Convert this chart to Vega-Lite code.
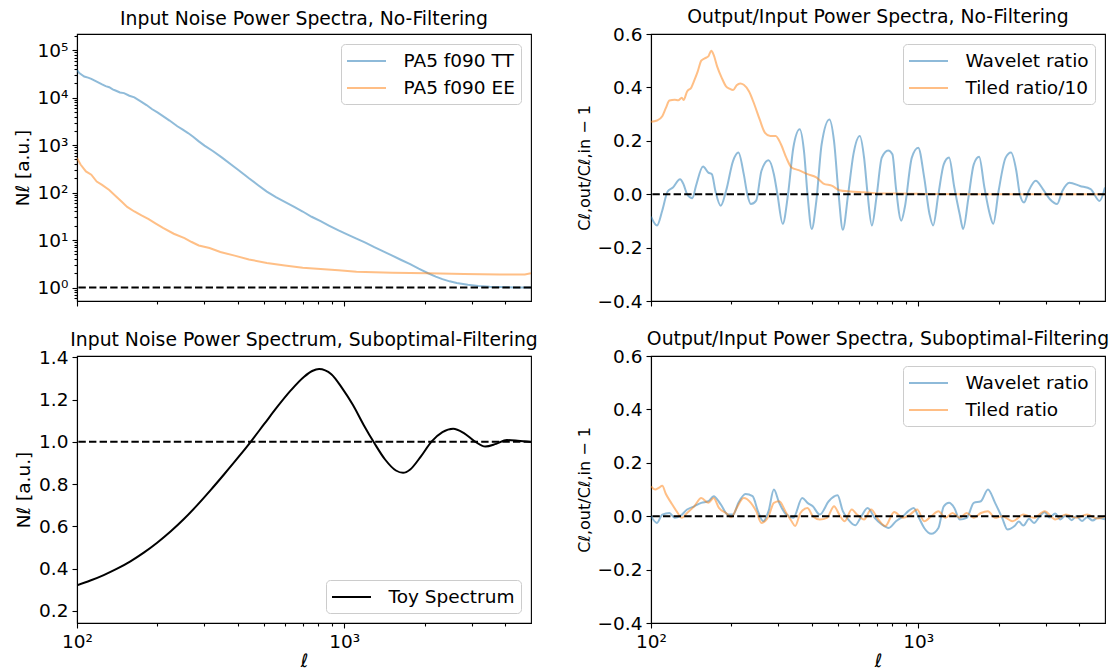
{
  "$schema": "https://vega.github.io/schema/vega-lite/v6.json",
  "background": "white",
  "padding": {"left": 12, "top": 7, "right": 2, "bottom": 0},
  "columns": 2,
  "bounds": "flush",
  "spacing": {"row": 55, "column": 120},
  "config": {
    "font": "DejaVu Sans",
    "view": {"stroke": "black", "strokeWidth": 1.1},
    "axis": {
      "grid": false, "labelFont": "DejaVu Sans", "titleFont": "DejaVu Sans",
      "labelFontSize": 18.5, "titleFontSize": 18.5, "titleFontWeight": "normal",
      "labelColor": "black", "titleColor": "black", "domainColor": "black", "tickColor": "black",
      "domainWidth": 1.1, "tickWidth": 1.1, "labelPadding": 4, "titlePadding": 5,
      "labelFlush": false, "labelOverlap": false
    },
    "title": {"font": "DejaVu Sans", "fontSize": 18.8, "fontWeight": "normal", "color": "black", "anchor": "middle", "frame": "group", "offset": -2, "baseline": "alphabetic"},
    "legend": {
      "title": null, "labelFont": "DejaVu Sans", "labelFontSize": 18.5, "labelColor": "black",
      "symbolType": "M-1.95,0H1.95", "symbolStrokeWidth": 2, "symbolSize": 400, "symbolOffset": 8.5,
      "fillColor": "rgba(255,255,255,0.8)", "strokeColor": "#cccccc", "cornerRadius": 4,
      "padding": 6, "rowPadding": 6, "labelOffset": 26, "offset": 10
    }
  },
  "datasets": {
    "tl": [
      {"ell": 100, "value": 38000, "series": "PA5 f090 TT"},
      {"ell": 102, "value": 33000, "series": "PA5 f090 TT"},
      {"ell": 106.4, "value": 28000, "series": "PA5 f090 TT"},
      {"ell": 110, "value": 26500, "series": "PA5 f090 TT"},
      {"ell": 113.1, "value": 25000, "series": "PA5 f090 TT"},
      {"ell": 118, "value": 22000, "series": "PA5 f090 TT"},
      {"ell": 124.1, "value": 19000, "series": "PA5 f090 TT"},
      {"ell": 128, "value": 17500, "series": "PA5 f090 TT"},
      {"ell": 132, "value": 16600, "series": "PA5 f090 TT"},
      {"ell": 136, "value": 15000, "series": "PA5 f090 TT"},
      {"ell": 140, "value": 14000, "series": "PA5 f090 TT"},
      {"ell": 144.8, "value": 12900, "series": "PA5 f090 TT"},
      {"ell": 150, "value": 12500, "series": "PA5 f090 TT"},
      {"ell": 157, "value": 11000, "series": "PA5 f090 TT"},
      {"ell": 163.9, "value": 10200, "series": "PA5 f090 TT"},
      {"ell": 174.3, "value": 8200, "series": "PA5 f090 TT"},
      {"ell": 182, "value": 7000, "series": "PA5 f090 TT"},
      {"ell": 191.2, "value": 5700, "series": "PA5 f090 TT"},
      {"ell": 200, "value": 4900, "series": "PA5 f090 TT"},
      {"ell": 209.8, "value": 4100, "series": "PA5 f090 TT"},
      {"ell": 222, "value": 3300, "series": "PA5 f090 TT"},
      {"ell": 237.4, "value": 2500, "series": "PA5 f090 TT"},
      {"ell": 248, "value": 2150, "series": "PA5 f090 TT"},
      {"ell": 260.4, "value": 1800, "series": "PA5 f090 TT"},
      {"ell": 272, "value": 1500, "series": "PA5 f090 TT"},
      {"ell": 285.6, "value": 1200, "series": "PA5 f090 TT"},
      {"ell": 300, "value": 980, "series": "PA5 f090 TT"},
      {"ell": 323.3, "value": 745, "series": "PA5 f090 TT"},
      {"ell": 350, "value": 540, "series": "PA5 f090 TT"},
      {"ell": 377.2, "value": 390, "series": "PA5 f090 TT"},
      {"ell": 405, "value": 290, "series": "PA5 f090 TT"},
      {"ell": 440, "value": 200, "series": "PA5 f090 TT"},
      {"ell": 475, "value": 145, "series": "PA5 f090 TT"},
      {"ell": 513.4, "value": 105, "series": "PA5 f090 TT"},
      {"ell": 555, "value": 80, "series": "PA5 f090 TT"},
      {"ell": 599.2, "value": 64, "series": "PA5 f090 TT"},
      {"ell": 650, "value": 50, "series": "PA5 f090 TT"},
      {"ell": 699.2, "value": 40, "series": "PA5 f090 TT"},
      {"ell": 755, "value": 31, "series": "PA5 f090 TT"},
      {"ell": 815.8, "value": 25, "series": "PA5 f090 TT"},
      {"ell": 880, "value": 20, "series": "PA5 f090 TT"},
      {"ell": 952.1, "value": 16, "series": "PA5 f090 TT"},
      {"ell": 1030, "value": 13, "series": "PA5 f090 TT"},
      {"ell": 1111, "value": 10.7, "series": "PA5 f090 TT"},
      {"ell": 1200, "value": 8.8, "series": "PA5 f090 TT"},
      {"ell": 1296, "value": 7.1, "series": "PA5 f090 TT"},
      {"ell": 1400, "value": 5.8, "series": "PA5 f090 TT"},
      {"ell": 1513, "value": 4.7, "series": "PA5 f090 TT"},
      {"ell": 1635, "value": 3.8, "series": "PA5 f090 TT"},
      {"ell": 1765, "value": 3.1, "series": "PA5 f090 TT"},
      {"ell": 1900, "value": 2.5, "series": "PA5 f090 TT"},
      {"ell": 2060, "value": 2.0, "series": "PA5 f090 TT"},
      {"ell": 2200, "value": 1.7, "series": "PA5 f090 TT"},
      {"ell": 2330, "value": 1.5, "series": "PA5 f090 TT"},
      {"ell": 2480, "value": 1.35, "series": "PA5 f090 TT"},
      {"ell": 2637, "value": 1.24, "series": "PA5 f090 TT"},
      {"ell": 2900, "value": 1.14, "series": "PA5 f090 TT"},
      {"ell": 3174, "value": 1.08, "series": "PA5 f090 TT"},
      {"ell": 3500, "value": 1.04, "series": "PA5 f090 TT"},
      {"ell": 3820, "value": 1.02, "series": "PA5 f090 TT"},
      {"ell": 4400, "value": 1.0, "series": "PA5 f090 TT"},
      {"ell": 5000, "value": 1.0, "series": "PA5 f090 TT"},
      {"ell": 100, "value": 537, "series": "PA5 f090 EE"},
      {"ell": 103.1, "value": 390, "series": "PA5 f090 EE"},
      {"ell": 108, "value": 280, "series": "PA5 f090 EE"},
      {"ell": 113.1, "value": 238, "series": "PA5 f090 EE"},
      {"ell": 118.5, "value": 171, "series": "PA5 f090 EE"},
      {"ell": 124.1, "value": 146, "series": "PA5 f090 EE"},
      {"ell": 132, "value": 114, "series": "PA5 f090 EE"},
      {"ell": 140.4, "value": 82, "series": "PA5 f090 EE"},
      {"ell": 147.1, "value": 64, "series": "PA5 f090 EE"},
      {"ell": 154.1, "value": 50, "series": "PA5 f090 EE"},
      {"ell": 163.9, "value": 40, "series": "PA5 f090 EE"},
      {"ell": 174.3, "value": 33, "series": "PA5 f090 EE"},
      {"ell": 185.4, "value": 27.5, "series": "PA5 f090 EE"},
      {"ell": 197.2, "value": 22.3, "series": "PA5 f090 EE"},
      {"ell": 209.8, "value": 18, "series": "PA5 f090 EE"},
      {"ell": 230.2, "value": 13.6, "series": "PA5 f090 EE"},
      {"ell": 252.5, "value": 11, "series": "PA5 f090 EE"},
      {"ell": 268.6, "value": 9.1, "series": "PA5 f090 EE"},
      {"ell": 285.6, "value": 7.7, "series": "PA5 f090 EE"},
      {"ell": 313.3, "value": 6.8, "series": "PA5 f090 EE"},
      {"ell": 343.9, "value": 5.6, "series": "PA5 f090 EE"},
      {"ell": 389, "value": 4.7, "series": "PA5 f090 EE"},
      {"ell": 440, "value": 3.9, "series": "PA5 f090 EE"},
      {"ell": 513.4, "value": 3.3, "series": "PA5 f090 EE"},
      {"ell": 599.3, "value": 2.9, "series": "PA5 f090 EE"},
      {"ell": 699.2, "value": 2.6, "series": "PA5 f090 EE"},
      {"ell": 815.8, "value": 2.46, "series": "PA5 f090 EE"},
      {"ell": 951.9, "value": 2.3, "series": "PA5 f090 EE"},
      {"ell": 1111, "value": 2.15, "series": "PA5 f090 EE"},
      {"ell": 1513, "value": 2.05, "series": "PA5 f090 EE"},
      {"ell": 2060, "value": 2.0, "series": "PA5 f090 EE"},
      {"ell": 2805, "value": 1.92, "series": "PA5 f090 EE"},
      {"ell": 3820, "value": 1.89, "series": "PA5 f090 EE"},
      {"ell": 4741, "value": 1.89, "series": "PA5 f090 EE"},
      {"ell": 5000, "value": 2.0, "series": "PA5 f090 EE"}
    ],
    "tr": [
      {"ell": 100, "value": -0.084, "series": "Wavelet ratio"},
      {"ell": 105.3, "value": -0.117, "series": "Wavelet ratio"},
      {"ell": 110.2, "value": -0.061, "series": "Wavelet ratio"},
      {"ell": 115.4, "value": 0.01, "series": "Wavelet ratio"},
      {"ell": 120.8, "value": 0.025, "series": "Wavelet ratio"},
      {"ell": 128.4, "value": 0.056, "series": "Wavelet ratio"},
      {"ell": 132.4, "value": 0.037, "series": "Wavelet ratio"},
      {"ell": 136.5, "value": 0.0, "series": "Wavelet ratio"},
      {"ell": 142.9, "value": -0.015, "series": "Wavelet ratio"},
      {"ell": 147.3, "value": 0.031, "series": "Wavelet ratio"},
      {"ell": 156.6, "value": 0.104, "series": "Wavelet ratio"},
      {"ell": 163.9, "value": 0.081, "series": "Wavelet ratio"},
      {"ell": 169.0, "value": 0.075, "series": "Wavelet ratio"},
      {"ell": 174.2, "value": 0.012, "series": "Wavelet ratio"},
      {"ell": 182.4, "value": -0.043, "series": "Wavelet ratio"},
      {"ell": 190.9, "value": 0.012, "series": "Wavelet ratio"},
      {"ell": 202.9, "value": 0.125, "series": "Wavelet ratio"},
      {"ell": 212.4, "value": 0.156, "series": "Wavelet ratio"},
      {"ell": 222.4, "value": 0.075, "series": "Wavelet ratio"},
      {"ell": 229.3, "value": 0.0, "series": "Wavelet ratio"},
      {"ell": 236.4, "value": -0.037, "series": "Wavelet ratio"},
      {"ell": 247.5, "value": -0.024, "series": "Wavelet ratio"},
      {"ell": 259.1, "value": 0.088, "series": "Wavelet ratio"},
      {"ell": 275.4, "value": 0.127, "series": "Wavelet ratio"},
      {"ell": 288.3, "value": 0.075, "series": "Wavelet ratio"},
      {"ell": 297.2, "value": 0.0, "series": "Wavelet ratio"},
      {"ell": 311.1, "value": -0.111, "series": "Wavelet ratio"},
      {"ell": 325.7, "value": 0.0, "series": "Wavelet ratio"},
      {"ell": 340.9, "value": 0.174, "series": "Wavelet ratio"},
      {"ell": 360.2, "value": 0.243, "series": "Wavelet ratio"},
      {"ell": 373.6, "value": 0.162, "series": "Wavelet ratio"},
      {"ell": 385.2, "value": 0.0, "series": "Wavelet ratio"},
      {"ell": 399.5, "value": -0.13, "series": "Wavelet ratio"},
      {"ell": 415.7, "value": -0.025, "series": "Wavelet ratio"},
      {"ell": 435.1, "value": 0.187, "series": "Wavelet ratio"},
      {"ell": 465.3, "value": 0.28, "series": "Wavelet ratio"},
      {"ell": 484.1, "value": 0.199, "series": "Wavelet ratio"},
      {"ell": 503.5, "value": 0.0, "series": "Wavelet ratio"},
      {"ell": 522.3, "value": -0.133, "series": "Wavelet ratio"},
      {"ell": 546.7, "value": 0.0, "series": "Wavelet ratio"},
      {"ell": 572.3, "value": 0.15, "series": "Wavelet ratio"},
      {"ell": 604.6, "value": 0.218, "series": "Wavelet ratio"},
      {"ell": 627.1, "value": 0.137, "series": "Wavelet ratio"},
      {"ell": 646.6, "value": 0.0, "series": "Wavelet ratio"},
      {"ell": 670.6, "value": -0.117, "series": "Wavelet ratio"},
      {"ell": 697.8, "value": -0.012, "series": "Wavelet ratio"},
      {"ell": 730.5, "value": 0.137, "series": "Wavelet ratio"},
      {"ell": 771.7, "value": 0.164, "series": "Wavelet ratio"},
      {"ell": 800.4, "value": 0.15, "series": "Wavelet ratio"},
      {"ell": 825.2, "value": 0.025, "series": "Wavelet ratio"},
      {"ell": 863.9, "value": -0.099, "series": "Wavelet ratio"},
      {"ell": 890.6, "value": -0.05, "series": "Wavelet ratio"},
      {"ell": 946.4, "value": 0.137, "series": "Wavelet ratio"},
      {"ell": 1000, "value": 0.174, "series": "Wavelet ratio"},
      {"ell": 1053, "value": 0.062, "series": "Wavelet ratio"},
      {"ell": 1102, "value": -0.074, "series": "Wavelet ratio"},
      {"ell": 1137, "value": -0.117, "series": "Wavelet ratio"},
      {"ell": 1190, "value": 0.0, "series": "Wavelet ratio"},
      {"ell": 1246, "value": 0.112, "series": "Wavelet ratio"},
      {"ell": 1304, "value": 0.137, "series": "Wavelet ratio"},
      {"ell": 1365, "value": 0.025, "series": "Wavelet ratio"},
      {"ell": 1429, "value": -0.074, "series": "Wavelet ratio"},
      {"ell": 1473, "value": -0.13, "series": "Wavelet ratio"},
      {"ell": 1542, "value": -0.012, "series": "Wavelet ratio"},
      {"ell": 1614, "value": 0.112, "series": "Wavelet ratio"},
      {"ell": 1690, "value": 0.14, "series": "Wavelet ratio"},
      {"ell": 1769, "value": 0.025, "series": "Wavelet ratio"},
      {"ell": 1852, "value": -0.074, "series": "Wavelet ratio"},
      {"ell": 1909, "value": -0.111, "series": "Wavelet ratio"},
      {"ell": 1999, "value": 0.012, "series": "Wavelet ratio"},
      {"ell": 2124, "value": 0.137, "series": "Wavelet ratio"},
      {"ell": 2224, "value": 0.156, "series": "Wavelet ratio"},
      {"ell": 2328, "value": 0.088, "series": "Wavelet ratio"},
      {"ell": 2400, "value": 0.0, "series": "Wavelet ratio"},
      {"ell": 2489, "value": -0.031, "series": "Wavelet ratio"},
      {"ell": 2590, "value": 0.012, "series": "Wavelet ratio"},
      {"ell": 2754, "value": 0.05, "series": "Wavelet ratio"},
      {"ell": 2927, "value": 0.019, "series": "Wavelet ratio"},
      {"ell": 3111, "value": -0.019, "series": "Wavelet ratio"},
      {"ell": 3307, "value": -0.037, "series": "Wavelet ratio"},
      {"ell": 3462, "value": 0.012, "series": "Wavelet ratio"},
      {"ell": 3680, "value": 0.043, "series": "Wavelet ratio"},
      {"ell": 4030, "value": 0.031, "series": "Wavelet ratio"},
      {"ell": 4418, "value": 0.019, "series": "Wavelet ratio"},
      {"ell": 4768, "value": -0.025, "series": "Wavelet ratio"},
      {"ell": 5000, "value": 0.025, "series": "Wavelet ratio"},
      {"ell": 100, "value": 0.271, "series": "Tiled ratio/10"},
      {"ell": 105.3, "value": 0.276, "series": "Tiled ratio/10"},
      {"ell": 110.2, "value": 0.292, "series": "Tiled ratio/10"},
      {"ell": 113.7, "value": 0.323, "series": "Tiled ratio/10"},
      {"ell": 117.2, "value": 0.351, "series": "Tiled ratio/10"},
      {"ell": 122.7, "value": 0.354, "series": "Tiled ratio/10"},
      {"ell": 126.5, "value": 0.352, "series": "Tiled ratio/10"},
      {"ell": 130.4, "value": 0.361, "series": "Tiled ratio/10"},
      {"ell": 132.4, "value": 0.353, "series": "Tiled ratio/10"},
      {"ell": 136.5, "value": 0.385, "series": "Tiled ratio/10"},
      {"ell": 141.6, "value": 0.4, "series": "Tiled ratio/10"},
      {"ell": 145.1, "value": 0.425, "series": "Tiled ratio/10"},
      {"ell": 149.6, "value": 0.46, "series": "Tiled ratio/10"},
      {"ell": 154.2, "value": 0.5, "series": "Tiled ratio/10"},
      {"ell": 159.0, "value": 0.509, "series": "Tiled ratio/10"},
      {"ell": 163.9, "value": 0.516, "series": "Tiled ratio/10"},
      {"ell": 168.0, "value": 0.537, "series": "Tiled ratio/10"},
      {"ell": 171.6, "value": 0.522, "series": "Tiled ratio/10"},
      {"ell": 176.9, "value": 0.478, "series": "Tiled ratio/10"},
      {"ell": 184.1, "value": 0.435, "series": "Tiled ratio/10"},
      {"ell": 190.9, "value": 0.404, "series": "Tiled ratio/10"},
      {"ell": 196.8, "value": 0.395, "series": "Tiled ratio/10"},
      {"ell": 202.9, "value": 0.39, "series": "Tiled ratio/10"},
      {"ell": 209.2, "value": 0.408, "series": "Tiled ratio/10"},
      {"ell": 215.7, "value": 0.415, "series": "Tiled ratio/10"},
      {"ell": 222.4, "value": 0.41, "series": "Tiled ratio/10"},
      {"ell": 232.8, "value": 0.385, "series": "Tiled ratio/10"},
      {"ell": 243.7, "value": 0.336, "series": "Tiled ratio/10"},
      {"ell": 255.1, "value": 0.28, "series": "Tiled ratio/10"},
      {"ell": 267.1, "value": 0.23, "series": "Tiled ratio/10"},
      {"ell": 279.6, "value": 0.218, "series": "Tiled ratio/10"},
      {"ell": 292.7, "value": 0.218, "series": "Tiled ratio/10"},
      {"ell": 306.4, "value": 0.187, "series": "Tiled ratio/10"},
      {"ell": 320.8, "value": 0.137, "series": "Tiled ratio/10"},
      {"ell": 335.8, "value": 0.1, "series": "Tiled ratio/10"},
      {"ell": 356.9, "value": 0.09, "series": "Tiled ratio/10"},
      {"ell": 385.2, "value": 0.075, "series": "Tiled ratio/10"},
      {"ell": 415.7, "value": 0.063, "series": "Tiled ratio/10"},
      {"ell": 441.8, "value": 0.04, "series": "Tiled ratio/10"},
      {"ell": 476.8, "value": 0.031, "series": "Tiled ratio/10"},
      {"ell": 506.6, "value": 0.015, "series": "Tiled ratio/10"},
      {"ell": 555.1, "value": 0.01, "series": "Tiled ratio/10"},
      {"ell": 627.1, "value": 0.007, "series": "Tiled ratio/10"},
      {"ell": 708.5, "value": 0.003, "series": "Tiled ratio/10"},
      {"ell": 825.2, "value": 0.003, "series": "Tiled ratio/10"},
      {"ell": 1119, "value": 0.001, "series": "Tiled ratio/10"},
      {"ell": 1769, "value": 0.0, "series": "Tiled ratio/10"},
      {"ell": 5000, "value": 0.0, "series": "Tiled ratio/10"}
    ],
    "bl": [
      {"ell": 100, "value": 0.321, "series": "Toy Spectrum"},
      {"ell": 112.2, "value": 0.343, "series": "Toy Spectrum"},
      {"ell": 125.9, "value": 0.369, "series": "Toy Spectrum"},
      {"ell": 141.3, "value": 0.399, "series": "Toy Spectrum"},
      {"ell": 158.5, "value": 0.434, "series": "Toy Spectrum"},
      {"ell": 177.8, "value": 0.475, "series": "Toy Spectrum"},
      {"ell": 199.5, "value": 0.522, "series": "Toy Spectrum"},
      {"ell": 223.9, "value": 0.575, "series": "Toy Spectrum"},
      {"ell": 251.2, "value": 0.634, "series": "Toy Spectrum"},
      {"ell": 281.8, "value": 0.7, "series": "Toy Spectrum"},
      {"ell": 316.2, "value": 0.771, "series": "Toy Spectrum"},
      {"ell": 354.8, "value": 0.845, "series": "Toy Spectrum"},
      {"ell": 398.1, "value": 0.921, "series": "Toy Spectrum"},
      {"ell": 446.7, "value": 1.0, "series": "Toy Spectrum"},
      {"ell": 501.2, "value": 1.083, "series": "Toy Spectrum"},
      {"ell": 562.3, "value": 1.166, "series": "Toy Spectrum"},
      {"ell": 631.0, "value": 1.243, "series": "Toy Spectrum"},
      {"ell": 707.9, "value": 1.308, "series": "Toy Spectrum"},
      {"ell": 758.6, "value": 1.335, "series": "Toy Spectrum"},
      {"ell": 805, "value": 1.345, "series": "Toy Spectrum"},
      {"ell": 895, "value": 1.32, "series": "Toy Spectrum"},
      {"ell": 982, "value": 1.254, "series": "Toy Spectrum"},
      {"ell": 1077, "value": 1.175, "series": "Toy Spectrum"},
      {"ell": 1181, "value": 1.081, "series": "Toy Spectrum"},
      {"ell": 1296, "value": 0.994, "series": "Toy Spectrum"},
      {"ell": 1422, "value": 0.916, "series": "Toy Spectrum"},
      {"ell": 1561, "value": 0.864, "series": "Toy Spectrum"},
      {"ell": 1660, "value": 0.853, "series": "Toy Spectrum"},
      {"ell": 1766, "value": 0.869, "series": "Toy Spectrum"},
      {"ell": 1937, "value": 0.931, "series": "Toy Spectrum"},
      {"ell": 2125, "value": 1.002, "series": "Toy Spectrum"},
      {"ell": 2331, "value": 1.046, "series": "Toy Spectrum"},
      {"ell": 2557, "value": 1.062, "series": "Toy Spectrum"},
      {"ell": 2805, "value": 1.041, "series": "Toy Spectrum"},
      {"ell": 3077, "value": 1.002, "series": "Toy Spectrum"},
      {"ell": 3375, "value": 0.977, "series": "Toy Spectrum"},
      {"ell": 3703, "value": 0.99, "series": "Toy Spectrum"},
      {"ell": 4062, "value": 1.008, "series": "Toy Spectrum"},
      {"ell": 4458, "value": 1.005, "series": "Toy Spectrum"},
      {"ell": 5000, "value": 0.999, "series": "Toy Spectrum"}
    ],
    "br": [
      {"ell": 100, "value": 0.0, "series": "Wavelet ratio"},
      {"ell": 105.3, "value": -0.025, "series": "Wavelet ratio"},
      {"ell": 110.2, "value": 0.006, "series": "Wavelet ratio"},
      {"ell": 117.2, "value": 0.012, "series": "Wavelet ratio"},
      {"ell": 122.7, "value": -0.006, "series": "Wavelet ratio"},
      {"ell": 128.4, "value": 0.0, "series": "Wavelet ratio"},
      {"ell": 136.5, "value": 0.025, "series": "Wavelet ratio"},
      {"ell": 145.1, "value": 0.037, "series": "Wavelet ratio"},
      {"ell": 154.2, "value": 0.05, "series": "Wavelet ratio"},
      {"ell": 163.9, "value": 0.056, "series": "Wavelet ratio"},
      {"ell": 171.6, "value": 0.075, "series": "Wavelet ratio"},
      {"ell": 182.4, "value": 0.044, "series": "Wavelet ratio"},
      {"ell": 193.9, "value": 0.006, "series": "Wavelet ratio"},
      {"ell": 202.9, "value": 0.006, "series": "Wavelet ratio"},
      {"ell": 212.4, "value": 0.05, "series": "Wavelet ratio"},
      {"ell": 225.8, "value": 0.083, "series": "Wavelet ratio"},
      {"ell": 240.0, "value": 0.075, "series": "Wavelet ratio"},
      {"ell": 251.2, "value": 0.019, "series": "Wavelet ratio"},
      {"ell": 263.1, "value": -0.019, "series": "Wavelet ratio"},
      {"ell": 275.4, "value": 0.019, "series": "Wavelet ratio"},
      {"ell": 288.3, "value": 0.1, "series": "Wavelet ratio"},
      {"ell": 301.8, "value": 0.05, "series": "Wavelet ratio"},
      {"ell": 320.8, "value": 0.006, "series": "Wavelet ratio"},
      {"ell": 340.9, "value": -0.006, "series": "Wavelet ratio"},
      {"ell": 368.0, "value": 0.068, "series": "Wavelet ratio"},
      {"ell": 385.2, "value": 0.05, "series": "Wavelet ratio"},
      {"ell": 403.2, "value": 0.037, "series": "Wavelet ratio"},
      {"ell": 428.3, "value": 0.006, "series": "Wavelet ratio"},
      {"ell": 462.5, "value": 0.056, "series": "Wavelet ratio"},
      {"ell": 498.9, "value": 0.078, "series": "Wavelet ratio"},
      {"ell": 522.3, "value": 0.019, "series": "Wavelet ratio"},
      {"ell": 546.7, "value": -0.012, "series": "Wavelet ratio"},
      {"ell": 581.1, "value": -0.034, "series": "Wavelet ratio"},
      {"ell": 608.3, "value": -0.006, "series": "Wavelet ratio"},
      {"ell": 646.6, "value": 0.031, "series": "Wavelet ratio"},
      {"ell": 687.2, "value": -0.006, "series": "Wavelet ratio"},
      {"ell": 730.5, "value": -0.031, "series": "Wavelet ratio"},
      {"ell": 776.4, "value": -0.044, "series": "Wavelet ratio"},
      {"ell": 825.2, "value": -0.019, "series": "Wavelet ratio"},
      {"ell": 877.1, "value": 0.0, "series": "Wavelet ratio"},
      {"ell": 918.1, "value": 0.019, "series": "Wavelet ratio"},
      {"ell": 961.2, "value": 0.031, "series": "Wavelet ratio"},
      {"ell": 1006, "value": -0.006, "series": "Wavelet ratio"},
      {"ell": 1053, "value": -0.044, "series": "Wavelet ratio"},
      {"ell": 1119, "value": -0.066, "series": "Wavelet ratio"},
      {"ell": 1190, "value": -0.044, "series": "Wavelet ratio"},
      {"ell": 1246, "value": 0.037, "series": "Wavelet ratio"},
      {"ell": 1304, "value": 0.05, "series": "Wavelet ratio"},
      {"ell": 1365, "value": 0.031, "series": "Wavelet ratio"},
      {"ell": 1429, "value": -0.012, "series": "Wavelet ratio"},
      {"ell": 1519, "value": -0.006, "series": "Wavelet ratio"},
      {"ell": 1614, "value": 0.05, "series": "Wavelet ratio"},
      {"ell": 1716, "value": 0.056, "series": "Wavelet ratio"},
      {"ell": 1824, "value": 0.1, "series": "Wavelet ratio"},
      {"ell": 1939, "value": 0.05, "series": "Wavelet ratio"},
      {"ell": 2061, "value": -0.006, "series": "Wavelet ratio"},
      {"ell": 2157, "value": -0.05, "series": "Wavelet ratio"},
      {"ell": 2293, "value": -0.037, "series": "Wavelet ratio"},
      {"ell": 2380, "value": -0.02, "series": "Wavelet ratio"},
      {"ell": 2474, "value": -0.035, "series": "Wavelet ratio"},
      {"ell": 2600, "value": -0.01, "series": "Wavelet ratio"},
      {"ell": 2712, "value": -0.025, "series": "Wavelet ratio"},
      {"ell": 2850, "value": 0.0, "series": "Wavelet ratio"},
      {"ell": 2972, "value": 0.015, "series": "Wavelet ratio"},
      {"ell": 3100, "value": -0.005, "series": "Wavelet ratio"},
      {"ell": 3257, "value": 0.01, "series": "Wavelet ratio"},
      {"ell": 3400, "value": -0.012, "series": "Wavelet ratio"},
      {"ell": 3569, "value": 0.004, "series": "Wavelet ratio"},
      {"ell": 3750, "value": -0.015, "series": "Wavelet ratio"},
      {"ell": 3909, "value": 0.0, "series": "Wavelet ratio"},
      {"ell": 4100, "value": -0.018, "series": "Wavelet ratio"},
      {"ell": 4283, "value": -0.004, "series": "Wavelet ratio"},
      {"ell": 4500, "value": -0.016, "series": "Wavelet ratio"},
      {"ell": 4696, "value": -0.006, "series": "Wavelet ratio"},
      {"ell": 5000, "value": -0.012, "series": "Wavelet ratio"},
      {"ell": 100, "value": 0.112, "series": "Tiled ratio"},
      {"ell": 103.7, "value": 0.1, "series": "Tiled ratio"},
      {"ell": 106.9, "value": 0.106, "series": "Tiled ratio"},
      {"ell": 110.2, "value": 0.114, "series": "Tiled ratio"},
      {"ell": 113.7, "value": 0.083, "series": "Tiled ratio"},
      {"ell": 119.0, "value": 0.05, "series": "Tiled ratio"},
      {"ell": 124.6, "value": 0.019, "series": "Tiled ratio"},
      {"ell": 130.4, "value": -0.006, "series": "Tiled ratio"},
      {"ell": 136.5, "value": 0.012, "series": "Tiled ratio"},
      {"ell": 145.1, "value": 0.037, "series": "Tiled ratio"},
      {"ell": 154.2, "value": 0.068, "series": "Tiled ratio"},
      {"ell": 163.9, "value": 0.05, "series": "Tiled ratio"},
      {"ell": 171.6, "value": 0.068, "series": "Tiled ratio"},
      {"ell": 179.6, "value": 0.031, "series": "Tiled ratio"},
      {"ell": 190.9, "value": 0.012, "series": "Tiled ratio"},
      {"ell": 199.9, "value": -0.004, "series": "Tiled ratio"},
      {"ell": 209.2, "value": 0.031, "series": "Tiled ratio"},
      {"ell": 222.4, "value": 0.068, "series": "Tiled ratio"},
      {"ell": 236.4, "value": 0.05, "series": "Tiled ratio"},
      {"ell": 247.5, "value": 0.019, "series": "Tiled ratio"},
      {"ell": 259.1, "value": -0.025, "series": "Tiled ratio"},
      {"ell": 275.4, "value": 0.0, "series": "Tiled ratio"},
      {"ell": 288.3, "value": 0.05, "series": "Tiled ratio"},
      {"ell": 301.8, "value": 0.056, "series": "Tiled ratio"},
      {"ell": 320.8, "value": 0.012, "series": "Tiled ratio"},
      {"ell": 335.8, "value": -0.019, "series": "Tiled ratio"},
      {"ell": 346.2, "value": -0.037, "series": "Tiled ratio"},
      {"ell": 362.4, "value": 0.012, "series": "Tiled ratio"},
      {"ell": 385.2, "value": 0.031, "series": "Tiled ratio"},
      {"ell": 403.2, "value": 0.0, "series": "Tiled ratio"},
      {"ell": 428.3, "value": -0.012, "series": "Tiled ratio"},
      {"ell": 455.5, "value": -0.006, "series": "Tiled ratio"},
      {"ell": 484.1, "value": 0.037, "series": "Tiled ratio"},
      {"ell": 506.6, "value": 0.006, "series": "Tiled ratio"},
      {"ell": 530.3, "value": -0.019, "series": "Tiled ratio"},
      {"ell": 563.7, "value": 0.025, "series": "Tiled ratio"},
      {"ell": 590.0, "value": 0.006, "series": "Tiled ratio"},
      {"ell": 627.1, "value": -0.012, "series": "Tiled ratio"},
      {"ell": 666.6, "value": 0.025, "series": "Tiled ratio"},
      {"ell": 708.5, "value": -0.012, "series": "Tiled ratio"},
      {"ell": 753.1, "value": -0.037, "series": "Tiled ratio"},
      {"ell": 812.8, "value": 0.016, "series": "Tiled ratio"},
      {"ell": 877.1, "value": -0.006, "series": "Tiled ratio"},
      {"ell": 932.2, "value": 0.006, "series": "Tiled ratio"},
      {"ell": 990.9, "value": 0.025, "series": "Tiled ratio"},
      {"ell": 1053, "value": -0.019, "series": "Tiled ratio"},
      {"ell": 1119, "value": 0.0, "series": "Tiled ratio"},
      {"ell": 1190, "value": 0.019, "series": "Tiled ratio"},
      {"ell": 1265, "value": -0.006, "series": "Tiled ratio"},
      {"ell": 1344, "value": 0.012, "series": "Tiled ratio"},
      {"ell": 1429, "value": -0.006, "series": "Tiled ratio"},
      {"ell": 1519, "value": 0.012, "series": "Tiled ratio"},
      {"ell": 1614, "value": -0.006, "series": "Tiled ratio"},
      {"ell": 1716, "value": 0.012, "series": "Tiled ratio"},
      {"ell": 1824, "value": 0.019, "series": "Tiled ratio"},
      {"ell": 1939, "value": -0.006, "series": "Tiled ratio"},
      {"ell": 2061, "value": 0.0, "series": "Tiled ratio"},
      {"ell": 2258, "value": -0.019, "series": "Tiled ratio"},
      {"ell": 2474, "value": 0.006, "series": "Tiled ratio"},
      {"ell": 2712, "value": -0.006, "series": "Tiled ratio"},
      {"ell": 2972, "value": 0.019, "series": "Tiled ratio"},
      {"ell": 3257, "value": -0.012, "series": "Tiled ratio"},
      {"ell": 3569, "value": 0.006, "series": "Tiled ratio"},
      {"ell": 3909, "value": -0.006, "series": "Tiled ratio"},
      {"ell": 4283, "value": 0.006, "series": "Tiled ratio"},
      {"ell": 4696, "value": -0.009, "series": "Tiled ratio"},
      {"ell": 5000, "value": 0.0, "series": "Tiled ratio"}
    ],
    "ref1": [{"value": 1}],
    "ref0": [{"value": 0}]
  },
  "concat": [
    {
      "width": 454, "height": 267,
      "title": {"text": "Input Noise Power Spectra, No-Filtering"},
      "layer": [
        {
          "data": {"name": "tl"},
          "mark": {"type": "line", "strokeWidth": 2, "opacity": 0.5, "clip": true},
          "encoding": {
            "x": {"field": "ell", "type": "quantitative",
              "scale": {"type": "log", "domain": [100, 5000], "nice": false},
              "axis": {"values": [100, 200, 300, 400, 500, 600, 700, 800, 900, 1000, 2000, 3000, 4000], "labels": false, "title": null,
                "tickSize": {"condition": {"test": "datum.value == 100 || datum.value == 1000", "value": 5}, "value": 3}}},
            "y": {"field": "value", "type": "quantitative",
              "scale": {"type": "log", "domain": [0.52, 220000], "nice": false},
              "axis": {"title": "Nℓ [a.u.]",
                "values": [0.6, 0.7, 0.8, 0.9, 1, 2, 3, 4, 5, 6, 7, 8, 9, 10, 20, 30, 40, 50, 60, 70, 80, 90, 100, 200, 300, 400, 500, 600, 700, 800, 900, 1000, 2000, 3000, 4000, 5000, 6000, 7000, 8000, 9000, 10000, 20000, 30000, 40000, 50000, 60000, 70000, 80000, 90000, 100000, 200000],
                "labelExpr": "datum.value == 1 ? '10⁰' : datum.value == 10 ? '10¹' : datum.value == 100 ? '10²' : datum.value == 1000 ? '10³' : datum.value == 10000 ? '10⁴' : datum.value == 100000 ? '10⁵' : ''",
                "tickSize": {"condition": {"test": "datum.value == 1 || datum.value == 10 || datum.value == 100 || datum.value == 1000 || datum.value == 10000 || datum.value == 100000", "value": 5}, "value": 3}}},
            "color": {"field": "series", "type": "nominal",
              "scale": {"domain": ["PA5 f090 TT", "PA5 f090 EE"], "range": ["#1f77b4", "#ff7f0e"]},
              "legend": {"orient": "top-right", "symbolOpacity": 0.5, "symbolType": "M-1.95,0H1.95"}}
          }
        },
        {
          "data": {"name": "ref1"},
          "mark": {"type": "rule", "color": "black", "strokeWidth": 2, "strokeDash": [7.4, 3.2]},
          "encoding": {"y": {"field": "value", "type": "quantitative"}}
        }
      ]
    },
    {
      "width": 454, "height": 267,
      "title": {"text": "Output/Input Power Spectra, No-Filtering"},
      "layer": [
        {
          "data": {"name": "tr"},
          "mark": {"type": "line", "strokeWidth": 2, "opacity": 0.5, "clip": true, "interpolate": "monotone"},
          "encoding": {
            "x": {"field": "ell", "type": "quantitative",
              "scale": {"type": "log", "domain": [100, 5000], "nice": false},
              "axis": {"values": [100, 200, 300, 400, 500, 600, 700, 800, 900, 1000, 2000, 3000, 4000], "labels": false, "title": null,
                "tickSize": {"condition": {"test": "datum.value == 100 || datum.value == 1000", "value": 5}, "value": 3}}},
            "y": {"field": "value", "type": "quantitative",
              "scale": {"domain": [-0.4, 0.6], "nice": false, "zero": false},
              "axis": {"title": "Cℓ,out/Cℓ,in − 1", "titleFontSize": 16, "values": [-0.4, -0.2, 0, 0.2, 0.4, 0.6], "format": ".1f", "tickSize": 5}},
            "color": {"field": "series", "type": "nominal",
              "scale": {"domain": ["Wavelet ratio", "Tiled ratio/10"], "range": ["#1f77b4", "#ff7f0e"]},
              "legend": {"orient": "top-right", "symbolOpacity": 0.5, "symbolType": "M-1.95,0H1.95"}}
          }
        },
        {
          "data": {"name": "ref0"},
          "mark": {"type": "rule", "color": "black", "strokeWidth": 2, "strokeDash": [7.4, 3.2]},
          "encoding": {"y": {"field": "value", "type": "quantitative"}}
        }
      ]
    },
    {
      "width": 454, "height": 267,
      "title": {"text": "Input Noise Power Spectrum, Suboptimal-Filtering"},
      "layer": [
        {
          "data": {"name": "bl"},
          "mark": {"type": "line", "strokeWidth": 2, "clip": true, "interpolate": "monotone"},
          "encoding": {
            "x": {"field": "ell", "type": "quantitative",
              "scale": {"type": "log", "domain": [100, 5000], "nice": false},
              "axis": {"values": [100, 200, 300, 400, 500, 600, 700, 800, 900, 1000, 2000, 3000, 4000], "title": "ℓ", "titleFontStyle": "italic", "titlePadding": 1,
                "labelExpr": "datum.value == 100 ? '10²' : datum.value == 1000 ? '10³' : ''",
                "tickSize": {"condition": {"test": "datum.value == 100 || datum.value == 1000", "value": 5}, "value": 3}}},
            "y": {"field": "value", "type": "quantitative",
              "scale": {"domain": [0.142, 1.406], "nice": false, "zero": false},
              "axis": {"title": "Nℓ [a.u.]", "values": [0.2, 0.4, 0.6, 0.8, 1.0, 1.2, 1.4], "format": ".1f", "tickSize": 5}},
            "color": {"field": "series", "type": "nominal",
              "scale": {"domain": ["Toy Spectrum"], "range": ["black"]},
              "legend": {"orient": "bottom-right", "symbolOpacity": 1, "symbolType": "M-1.95,0H1.95"}}
          }
        },
        {
          "data": {"name": "ref1"},
          "mark": {"type": "rule", "color": "black", "strokeWidth": 2, "strokeDash": [7.4, 3.2]},
          "encoding": {"y": {"field": "value", "type": "quantitative"}}
        }
      ]
    },
    {
      "width": 454, "height": 267,
      "title": {"text": "Output/Input Power Spectra, Suboptimal-Filtering"},
      "layer": [
        {
          "data": {"name": "br"},
          "mark": {"type": "line", "strokeWidth": 2, "opacity": 0.5, "clip": true, "interpolate": "monotone"},
          "encoding": {
            "x": {"field": "ell", "type": "quantitative",
              "scale": {"type": "log", "domain": [100, 5000], "nice": false},
              "axis": {"values": [100, 200, 300, 400, 500, 600, 700, 800, 900, 1000, 2000, 3000, 4000], "title": "ℓ", "titleFontStyle": "italic", "titlePadding": 1,
                "labelExpr": "datum.value == 100 ? '10²' : datum.value == 1000 ? '10³' : ''",
                "tickSize": {"condition": {"test": "datum.value == 100 || datum.value == 1000", "value": 5}, "value": 3}}},
            "y": {"field": "value", "type": "quantitative",
              "scale": {"domain": [-0.4, 0.6], "nice": false, "zero": false},
              "axis": {"title": "Cℓ,out/Cℓ,in − 1", "titleFontSize": 16, "values": [-0.4, -0.2, 0, 0.2, 0.4, 0.6], "format": ".1f", "tickSize": 5}},
            "color": {"field": "series", "type": "nominal",
              "scale": {"domain": ["Wavelet ratio", "Tiled ratio"], "range": ["#1f77b4", "#ff7f0e"]},
              "legend": {"orient": "top-right", "symbolOpacity": 0.5, "symbolType": "M-1.95,0H1.95"}}
          }
        },
        {
          "data": {"name": "ref0"},
          "mark": {"type": "rule", "color": "black", "strokeWidth": 2, "strokeDash": [7.4, 3.2]},
          "encoding": {"y": {"field": "value", "type": "quantitative"}}
        }
      ]
    }
  ],
  "resolve": {
    "scale": {"color": "independent", "x": "independent", "y": "independent"},
    "legend": {"color": "independent"}
  }
}
